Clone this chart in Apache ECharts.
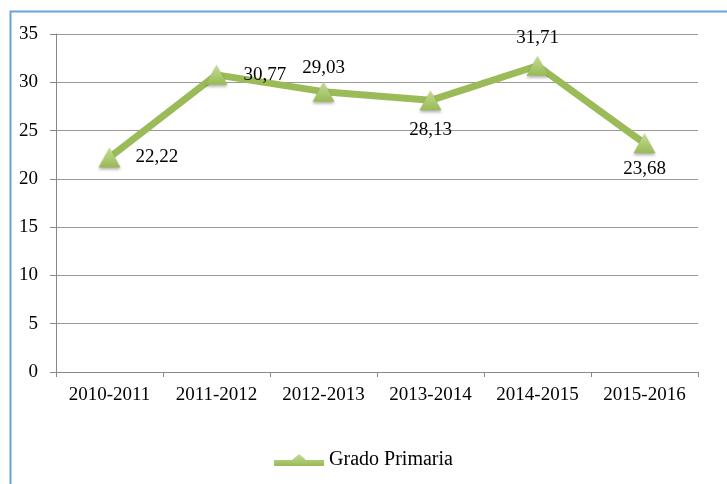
<!DOCTYPE html>
<html><head><meta charset="utf-8">
<script src="https://cdn.jsdelivr.net/npm/echarts@6/dist/echarts.min.js"></script>
<style>html,body{margin:0;padding:0;background:#fff}#c{width:727px;height:484px}</style>
</head><body><div id="c"></div>
<script>
const categories = ['2010-2011','2011-2012','2012-2013','2013-2014','2014-2015','2015-2016'];
const values = [22.22, 30.77, 29.03, 28.13, 31.71, 23.68];
const labelPos = ['right','right','top','bottom','top','bottom'];
const labelDist = [15, 16, 4, 10, 8, 6];
const seriesName = 'Grado Primaria';
const yTicks = [0,5,10,15,20,25,30,35];

const font = '"Liberation Serif", "DejaVu Serif", serif';
const chart = echarts.init(document.getElementById('c'));
chart.setOption({
  animation: false,
  graphic: [{type:'rect', shape:{x:10.5,y:11.5,width:740,height:500}, style:{fill:null, stroke:'#6aa3dc', lineWidth:2}}],
  grid: {left:56, right:29, top:34, bottom:112},
  legend: {bottom:9, left:'center', itemWidth:50, itemHeight:18, icon:'path://M0,6 L18,6 L25,0 L32,6 L50,6 L50,12 L0,12 Z',
    textStyle:{fontFamily:font, fontSize:20, color:'#000'}, data:[seriesName]},
  xAxis: {type:'category', data:categories, boundaryGap:true,
    axisLine:{lineStyle:{color:'#888'}}, axisTick:{show:true, interval:0, length:5, lineStyle:{color:'#888'}},
    axisLabel:{interval:0, hideOverlap:false, fontFamily:font, fontSize:19, color:'#000', margin:14}},
  yAxis: {type:'value', min:0, max:35, interval:5,
    axisLine:{show:true, lineStyle:{color:'#888'}}, axisTick:{show:true, length:6, lineStyle:{color:'#888'}},
    splitLine:{lineStyle:{color:'#999'}},
    axisLabel:{fontFamily:font, fontSize:19, color:'#000', margin:18}},
  series: [{
    name: seriesName, type:'line', data: values.map((v,i)=>({value:v, label:{position:labelPos[i], distance:labelDist[i]}})),
    symbol:'triangle', symbolSize:[22,20],
    lineStyle:{color:'#9bbb59', width:7},
    itemStyle:{color:new echarts.graphic.LinearGradient(0,0,0,1,[{offset:0,color:'#c5dc95'},{offset:1,color:'#98ba55'}]),
      shadowColor:'rgba(0,0,0,0.3)', shadowBlur:3, shadowOffsetY:2},
    label:{show:true, fontFamily:font, fontSize:19, color:'#000',
      formatter:p=>p.value.toFixed(2).replace('.',',')}
  }]
});
</script></body></html>
